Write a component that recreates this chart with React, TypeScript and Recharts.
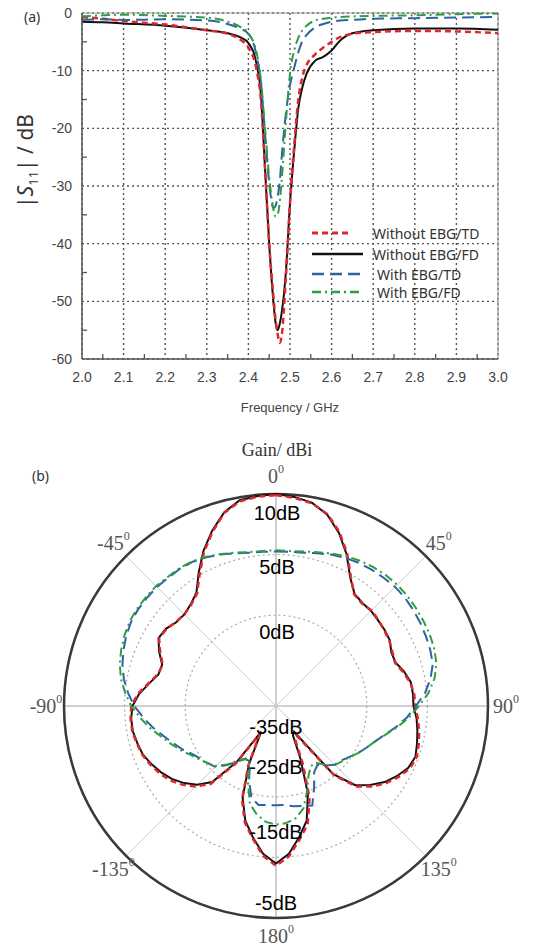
import React from 'react'
import {
  LineChart,
  Line,
  XAxis,
  YAxis,
  CartesianGrid,
  ReferenceLine,
  RadarChart,
  Radar,
  PolarGrid,
  PolarAngleAxis,
  PolarRadiusAxis,
} from 'recharts'

// (a) return loss vs frequency
const freqGHz = [2.0, 2.05, 2.1, 2.2, 2.3, 2.35, 2.38, 2.4, 2.42, 2.43, 2.44, 2.45, 2.46, 2.465, 2.47, 2.475, 2.48, 2.49, 2.5, 2.51, 2.52, 2.53, 2.54, 2.56, 2.58, 2.6, 2.62, 2.65, 2.7, 2.8, 2.9, 3.0]
const withoutEbgTD = [-0.7, -1.0, -1.4, -2.0, -3.0, -3.6, -4.6, -6.0, -10, -15, -27, -40, -49, -53, -55.5, -57.2, -56, -46, -33, -23, -15, -11, -9, -7.2, -6, -5, -4.2, -3.6, -3.3, -3.1, -3.2, -3.5]
const withoutEbgFD = [-1.5, -1.6, -1.8, -2.2, -3.0, -3.5, -4.2, -5.2, -9, -14, -27, -40, -50, -53.5, -55, -54, -52, -45, -33, -24, -16.5, -12.8, -10.5, -8.3, -7.6, -6.5, -4.8, -3.5, -3.0, -2.7, -2.7, -2.9]
const withEbgTD = [-1.2, -1.1, -1.2, -1.1, -1.3, -1.9, -2.7, -3.6, -7.5, -12, -21, -29.5, -33.8, -33.5, -32, -29.5, -25, -17.5, -12.5, -9.5, -6.8, -4.8, -3.8, -2.5, -1.9, -1.5, -1.3, -1.2, -1.0, -0.9, -0.8, -0.7]
const withEbgFD = [-0.6, -0.4, -0.3, -0.5, -0.8, -1.5, -2.4, -3.5, -7, -11.5, -20, -28.5, -34, -35.3, -35, -33, -29, -19, -10.5, -6.5, -4.3, -3.0, -2.2, -1.3, -1.0, -0.8, -0.7, -0.6, -0.5, -0.4, -0.2, -0.1]
const freqTicks = [2.0, 2.1, 2.2, 2.3, 2.4, 2.5, 2.6, 2.7, 2.8, 2.9, 3.0]
const freqMinorTicks = [2.05, 2.15, 2.25, 2.35, 2.45, 2.55, 2.65, 2.75, 2.85, 2.95]
const s11Ticks = [-60, -50, -40, -30, -20, -10, 0]
const s11MinorTicks = [-55, -45, -35, -25, -15, -5]

// (b) gain pattern, normalised dB, angle clockwise from top
const patternAngles = [0, 5, 10, 15, 20, 25, 30, 35, 40, 45, 50, 55, 60, 65, 70, 75, 80, 85, 90, 95, 100, 105, 110, 115, 120, 125, 130, 135, 140, 145, 150, 155, 160, 165, 170, 175, 180, 185, 190, 195, 200, 205, 210, 215, 220, 225, 230, 235, 240, 245, 250, 255, 260, 265, 270, 275, 280, 285, 290, 295, 300, 305, 310, 315, 320, 325, 330, 335, 340, 345, 350, 355]
const gainWithoutTD = [-0.2, -0.5, -1.0, -2.2, -4.4, -7.2, -10.3, -12.5, -12.9, -12.7, -12.9, -13.2, -13.4, -13.8, -14.1, -13.3, -12.5, -12.1, -12.0, -11.5, -11.0, -10.6, -10.3, -10.6, -11.6, -12.8, -14.3, -16.2, -20.0, -29.0, -28.8, -24.6, -18.8, -14.8, -12.6, -10.1, -8.6,
  -10.2, -12.8, -15.1, -18.6, -24.2, -29.6, -23.4, -18.2, -16.2, -14.8, -13.6, -12.8, -12.1, -11.5, -11.2, -10.9, -10.9, -11.1, -12.1, -13.6, -14.8, -15.1, -13.9, -12.7, -12.9, -13.4, -13.6, -13.2, -12.3, -9.8, -6.9, -4.4, -2.0, -0.7, -0.3]
const gainWithoutFD = [0, -0.35, -0.9, -2.3, -4.6, -7.4, -10.5, -12.4, -12.8, -12.8, -13, -13.1, -13.3, -14, -14, -13.1, -12.4, -12.3, -12.3, -11.7, -11.3, -10.9, -10.5, -10.9, -11.9, -13.1, -14.7, -16.5, -20.3, -29.8, -29.4, -25.5, -19.6, -15.4, -13, -10.5, -9,
  -10.5, -13, -15.4, -18.9, -24.5, -30.1, -23.8, -18.6, -16.6, -15.2, -14, -13.1, -12.3, -11.6, -11.3, -11, -11, -11.3, -12.3, -13.7, -14.9, -15, -13.7, -12.6, -12.8, -13.5, -13.6, -13.1, -12.1, -9.5, -6.7, -4.2, -1.9, -0.5, -0.2]
const gainWithTD = [-9.5, -9.45, -9.3, -8.9, -8.4, -8, -7.7, -7.5, -7.35, -7.2, -7.2, -7.35, -7.5, -7.7, -7.9, -8.2, -9.1, -10.3, -11.9, -13.3, -14.9, -16.5, -17.7, -18.6, -19.4, -20.3, -21, -21.3, -22.2, -23.1, -22.4, -20.1, -17.5, -17.9, -18.2, -18.6, -18.6,
  -18.6, -18.4, -19.3, -22, -24.9, -24.9, -23.8, -22.2, -20.8, -20.3, -19.8, -19.1, -18, -17, -15.8, -14.4, -13, -11.6, -10.5, -9.5, -8.75, -8.2, -7.7, -7.35, -7.2, -7.2, -7.2, -7.35, -7.35, -7.5, -7.9, -8.4, -8.9, -9.3, -9.45]
const gainWithFD = [-9.3, -9.3, -9.1, -8.7, -8.2, -7.7, -7.3, -7.0, -6.8, -6.7, -6.7, -6.8, -6.9, -7.0, -7.2, -7.6, -8.4, -9.7, -11.4, -13.0, -14.7, -16.4, -17.7, -18.6, -19.4, -20.2, -20.8, -21.2, -22.3, -23.6, -23.5, -22.3, -20.0, -17.5, -16.2, -15.6, -15.4,
  -15.8, -16.8, -18.3, -21.5, -24.5, -25.0, -24.0, -22.4, -21.0, -20.3, -19.6, -18.8, -17.7, -16.6, -15.4, -13.9, -12.5, -11.1, -10.0, -9.0, -8.3, -7.8, -7.4, -7.1, -7.0, -7.0, -7.0, -7.2, -7.2, -7.4, -7.8, -8.3, -8.8, -9.2, -9.3]
const gainRange = [-35, 0]
const gainRings = [-20, -10]
const patternLabelsTop = ['10dB', '5dB', '0dB']
const patternLabelsBottom = ['-35dB', '-25dB', '-15dB', '-5dB']

const series = [
  { key: 'woTD', name: 'Without EBG/TD', color: '#e3262b', dash: '6 4', width: 2.5 },
  { key: 'woFD', name: 'Without EBG/FD', color: '#111111', dash: undefined, width: 2 },
  { key: 'wTD', name: 'With EBG/TD', color: '#2f62a3', dash: '12 6', width: 2 },
  { key: 'wFD', name: 'With EBG/FD', color: '#2f9e3e', dash: '9 4 2 4', width: 2 },
]

const s11Data = freqGHz.map((f, i) => ({
  f,
  woTD: withoutEbgTD[i],
  woFD: withoutEbgFD[i],
  wTD: withEbgTD[i],
  wFD: withEbgFD[i],
}))

const patternData = patternAngles.map((a, i) => ({
  angle: a,
  woTD: gainWithoutTD[i],
  woFD: gainWithoutFD[i],
  wTD: gainWithTD[i],
  wFD: gainWithFD[i],
}))

const R_OUT = 212
const ringR = (v: number) => (R_OUT * (v - gainRange[0])) / (gainRange[1] - gainRange[0])

const sans = '"Liberation Sans", Arial, sans-serif'
const serif = '"Liberation Serif", "Times New Roman", serif'
const uiSans = '"Noto Sans", "Open Sans", sans-serif'

const isIn = (list: number[], v: number) => list.some((t) => Math.abs(t - v) < 1e-6)

// x ticks: label on majors, short inward mark on minors (y arrives at text position)
function FreqTick(props: any) {
  const { x, y, payload } = props
  const v = Number(payload.value)
  if (isIn(freqTicks, v)) {
    return (
      <text x={x} y={y} dy="0.71em" textAnchor="middle" fill="#444" fontSize={14} fontFamily={sans}>
        {v.toFixed(1)}
      </text>
    )
  }
  const axisY = y - 13
  return <line x1={x} x2={x} y1={axisY} y2={axisY - 5} stroke="#555" strokeWidth={1.3} />
}

function S11Tick(props: any) {
  const { x, y, payload } = props
  const v = Number(payload.value)
  if (isIn(s11Ticks, v)) {
    return (
      <text x={x} y={y} dy="0.355em" textAnchor="end" fill="#444" fontSize={14} fontFamily={sans}>
        {v}
      </text>
    )
  }
  const axisX = x + 10
  return <line x1={axisX} x2={axisX + 5} y1={y} y2={y} stroke="#555" strokeWidth={1.3} />
}

function AngleTick(props: any) {
  const { x, y, payload } = props
  const a = Number(payload.value)
  if (a % 45 !== 0) return null
  const shown = a > 180 ? a - 360 : a
  return (
    <text x={x} y={y} textAnchor="middle" dominantBaseline="central" fill="#555" fontFamily={serif} fontSize={20}>
      {shown}
      <tspan fontSize={12} dy={-7}>0</tspan>
    </text>
  )
}

// draw order: black under red, blue under green
const drawOrder = [series[1], series[0], series[2], series[3]]

export default function App() {
  const lbTop = [513, 567, 632]
  const lbBottom = [727, 767, 832, 903]
  const legendY = [233, 254, 274, 292]
  return (
    <div style={{ position: 'absolute', left: 0, top: 0, width: 554, height: 948, background: '#fff' }}>
      <div style={{ position: 'absolute', left: 0, top: 0 }}>
        <LineChart width={554} height={420} data={s11Data} margin={{ top: 13, right: 56, bottom: 0, left: 0 }}>
          <XAxis xAxisId="grid" dataKey="f" type="number" domain={[2, 3]} allowDataOverflow ticks={freqTicks} hide />
          <YAxis yAxisId="grid" type="number" domain={[-60, 0]} allowDataOverflow ticks={s11Ticks} hide />
          <CartesianGrid xAxisId="grid" yAxisId="grid" stroke="#555" strokeDasharray="2 3" strokeWidth={1.4} />
          <XAxis
            dataKey="f"
            type="number"
            domain={[2, 3]}
            ticks={[...freqTicks, ...freqMinorTicks]}
            interval={0}
            height={61}
            tickSize={6}
            tickMargin={7}
            tickLine={false}
            axisLine={{ stroke: '#555', strokeWidth: 1.5 }}
            tick={<FreqTick />}
            label={{ value: 'Frequency / GHz', position: 'insideBottom', offset: 8, fill: '#444', fontSize: 13, fontFamily: sans }}
          />
          <YAxis
            type="number"
            domain={[-60, 0]}
            ticks={[...s11Ticks, ...s11MinorTicks]}
            interval={0}
            width={82}
            tickSize={6}
            tickMargin={4}
            tickLine={false}
            axisLine={{ stroke: '#555', strokeWidth: 1.5 }}
            tick={<S11Tick />}
          />
          <ReferenceLine y={0} stroke="#999" strokeWidth={1.2} />
          <ReferenceLine x={3} stroke="#999" strokeWidth={1.2} />
          {drawOrder.map((s) => (
            <Line
              key={s.key}
              type="monotone"
              dataKey={s.key}
              name={s.name}
              stroke={s.color}
              strokeWidth={s.width}
              strokeDasharray={s.dash}
              dot={false}
              isAnimationActive={false}
            />
          ))}
        </LineChart>
      </div>

      <div style={{ position: 'absolute', left: 0, top: 440 }}>
        <RadarChart width={554} height={508} data={patternData} cx={276} cy={266} outerRadius={R_OUT} startAngle={90} endAngle={-270}>
          <PolarGrid gridType="circle" polarAngles={[0, 90, 180, 270]} polarRadius={[R_OUT]} stroke="#cfcfcf" strokeWidth={2} />
          <PolarGrid gridType="circle" polarAngles={[45, 135, 225, 315]} polarRadius={[R_OUT]} stroke="#cccccc" strokeWidth={1} />
          <PolarGrid gridType="circle" radialLines={false} polarRadius={gainRings.map(ringR)} stroke="#aaaaaa" strokeDasharray="2 3" strokeWidth={1.2} />
          <PolarGrid gridType="circle" radialLines={false} polarRadius={[R_OUT]} stroke="#3a3a3a" strokeWidth={2.5} />
          <PolarAngleAxis dataKey="angle" tick={<AngleTick />} tickLine={false} axisLine={false} tickSize={18} />
          <PolarRadiusAxis type="number" domain={gainRange} tick={false} axisLine={false} />
          {drawOrder.map((s) => (
            <Radar
              key={s.key}
              dataKey={s.key}
              name={s.name}
              stroke={s.color}
              strokeWidth={s.width}
              strokeDasharray={s.dash}
              fill="none"
              fillOpacity={0}
              dot={false}
              isAnimationActive={false}
            />
          ))}
        </RadarChart>
      </div>

      <svg width={554} height={948} style={{ position: 'absolute', left: 0, top: 0, pointerEvents: 'none' }}>
        <text x={24} y={22} fontFamily={uiSans} fontSize={14} fill="#333">(a)</text>
        <text x={32} y={481} fontFamily={uiSans} fontSize={14} fill="#333">(b)</text>
        <text transform="translate(33,161) rotate(-90)" textAnchor="middle" fontFamily={uiSans} fontSize={21} fill="#333">
          |<tspan fontStyle="italic">S</tspan>
          <tspan fontSize={13} dy={5}>11</tspan>
          <tspan dy={-5}>| / dB</tspan>
        </text>
        {series.map((s, i) => (
          <g key={s.key}>
            <line x1={312} x2={i === 0 ? 348 : 363} y1={legendY[i]} y2={legendY[i]} stroke={s.color} strokeWidth={s.width + 0.5} strokeDasharray={s.dash} />
            <text x={i < 2 ? 373 : 377} y={legendY[i]} dominantBaseline="central" fontFamily={uiSans} fontSize={14} fill="#333">
              {s.name}
            </text>
          </g>
        ))}
        <text x={277} y={456} textAnchor="middle" fontFamily={serif} fontSize={18} fill="#333">Gain/ dBi</text>
        {patternLabelsTop.map((t, i) => (
          <text key={t} x={277} y={lbTop[i]} textAnchor="middle" dominantBaseline="central" fontFamily={sans} fontSize={20} fill="#000">{t}</text>
        ))}
        {patternLabelsBottom.map((t, i) => (
          <text key={t} x={276} y={lbBottom[i]} textAnchor="middle" dominantBaseline="central" fontFamily={sans} fontSize={20} fill="#000">{t}</text>
        ))}
      </svg>
    </div>
  )
}
